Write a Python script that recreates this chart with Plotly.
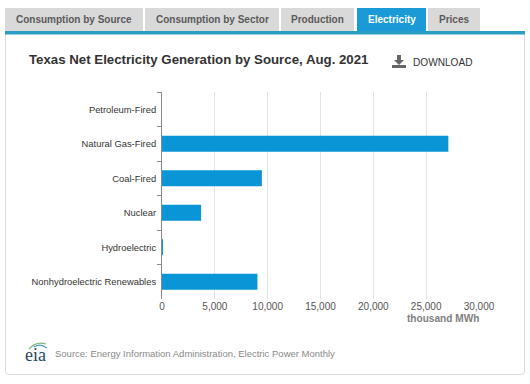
import plotly.graph_objects as go

categories = ["Petroleum-Fired", "Natural Gas-Fired", "Coal-Fired", "Nuclear", "Hydroelectric", "Nonhydroelectric Renewables"]
values = [0, 27100, 9450, 3700, 70, 9030]
tick_vals = [0, 5000, 10000, 15000, 20000, 25000, 30000]
tick_text = ["0", "5,000", "10,000", "15,000", "20,000", "25,000", "30,000"]
tabs = [("Consumption by Source", 5, 143), ("Consumption by Sector", 145, 279), ("Production", 281, 354), ("Electricity", 357, 426), ("Prices", 428, 480)]

W, H = 530, 384
FONT = "Liberation Sans, Arial, sans-serif"


def px(x):
    return x / W


def py(y):
    return 1 - y / H


shapes = []
annotations = []


def rect(x0, y0, x1, y1, fill, line=None, width=0):
    shapes.append(dict(type="rect", xref="paper", yref="paper", x0=px(x0), x1=px(x1), y0=py(y0), y1=py(y1),
                       fillcolor=fill, line=dict(color=line or fill, width=width), layer="below"))


def text(x, y, s, size, color, anchor="left", bold=False, family=FONT):
    annotations.append(dict(xref="paper", yref="paper", x=px(x), y=py(y), text=f"<b>{s}</b>" if bold else s,
                            showarrow=False, xanchor=anchor, yanchor="middle", align=anchor,
                            font=dict(family=family, size=size, color=color), borderpad=0, borderwidth=0))


# card
shapes.append(dict(type="path", xref="paper", yref="paper", layer="below", fillcolor="white",
                   line=dict(color="#dcdcdc", width=1),
                   path=(f"M {px(5.5)} {py(33)} L {px(5.5)} {py(371)} Q {px(5.5)} {py(374.5)} {px(9)} {py(374.5)} "
                         f"L {px(521)} {py(374.5)} Q {px(524.5)} {py(374.5)} {px(524.5)} {py(371)} L {px(524.5)} {py(33)} Z")))
rect(5, 31, 525, 34.5, "#2b9cc4")

# tabs
for name, x0, x1 in tabs:
    active = name == "Electricity"
    rect(x0, 8, x1, 31, "#1a9ad6" if active else "#d9d9d9")
    text((x0 + x1) / 2, 19.5, name, 10, "white" if active else "#5a5a5a", "center", True)

# titles
text(29, 59, "Texas Net Electricity Generation by Source, Aug. 2021", 13.25, "#333333", "left", True)
text(413, 62, "DOWNLOAD", 10.1, "#333333")
text(479, 318.5, "thousand MWh", 10.1, "#808080", "right", True)
text(55, 353.5, "Source: Energy Information Administration, Electric Power Monthly", 9.5, "#8a8a8a")

# download icon
shapes.append(dict(type="path", xref="paper", yref="paper", fillcolor="#666666", line=dict(width=0),
                   path=(f"M {px(397)} {py(55)} L {px(401)} {py(55)} L {px(401)} {py(60)} L {px(404)} {py(60)} "
                         f"L {px(399)} {py(65)} L {px(394)} {py(60)} L {px(397)} {py(60)} Z")))
rect(392, 65, 406, 68, "#666666")

# eia logo
text(25, 354.5, "eia", 18, "#24485f", "left", False, "Liberation Serif, serif")
shapes.append(dict(type="path", xref="paper", yref="paper", fillcolor="rgba(0,0,0,0)", line=dict(color="#7fb77e", width=1.2),
                   path=f"M {px(29)} {py(349)} Q {px(36)} {py(341)} {px(46)} {py(344)}"))
shapes.append(dict(type="path", xref="paper", yref="paper", fillcolor="rgba(0,0,0,0)", line=dict(color="#4f9fc4", width=1.2),
                   path=f"M {px(34)} {py(347)} Q {px(40)} {py(343)} {px(47)} {py(348)}"))

fig = go.Figure(go.Bar(y=categories, x=values, orientation="h", width=0.47,
                       marker=dict(color="#0a96d6", line=dict(width=0)), hoverinfo="x+y"))

fig.update_layout(
    template="none",
    width=W, height=H, autosize=False, margin=dict(l=0, r=0, t=0, b=0, pad=0),
    paper_bgcolor="white", plot_bgcolor="rgba(0,0,0,0)", showlegend=False,
    font=dict(family=FONT, size=10, color="#333333"),
    shapes=shapes, annotations=annotations,
    xaxis=dict(domain=[px(162), px(479)], range=[0, 30000], tickvals=tick_vals, ticktext=tick_text, automargin=False,
               showgrid=True, gridcolor="#e3e3e3", gridwidth=1, zeroline=False, showline=False,
               ticks="", tickfont=dict(size=10, color="#555555")),
    yaxis=dict(domain=[py(299), py(92)], autorange="reversed", automargin=False, showgrid=False, zeroline=False,
               showline=True, linecolor="#8a8a8a", linewidth=1, ticks="outside", ticklen=4, tickcolor="#8a8a8a",
               tickson="boundaries", tickfont=dict(size=9.4, color="#333333"), ticklabelstandoff=3),
)

fig.write_html("out.html", config={"displayModeBar": False, "responsive": False},
               default_width="530px", default_height="384px",
               post_script="document.body.style.margin='0';document.documentElement.style.overflow='hidden';")
